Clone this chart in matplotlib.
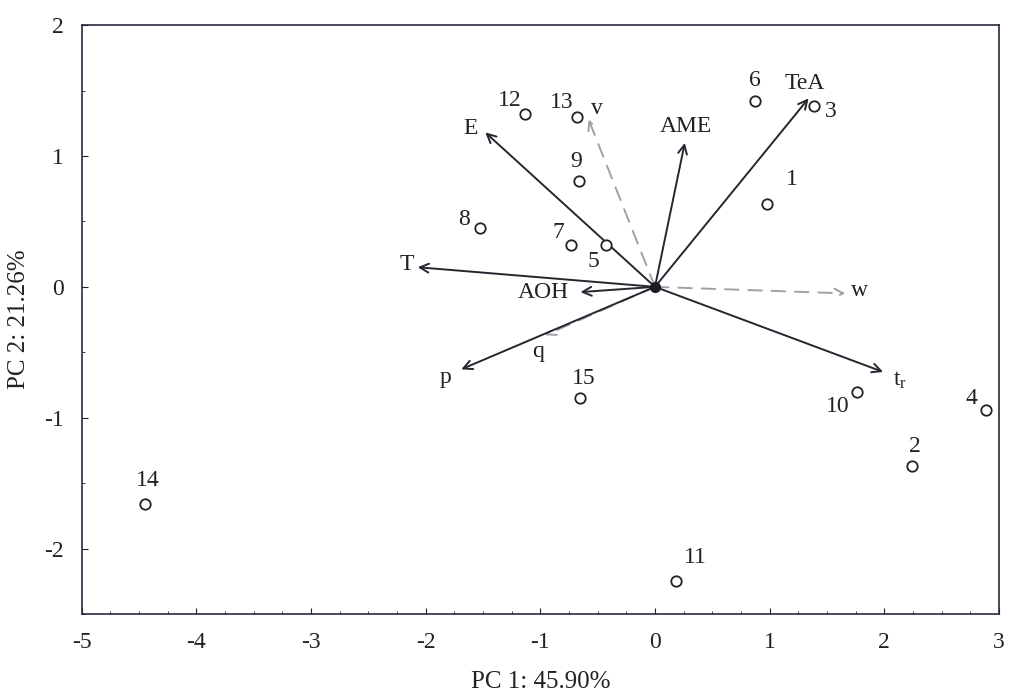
import numpy as np
import matplotlib
matplotlib.use("Agg")
import matplotlib.pyplot as plt
from matplotlib.ticker import MultipleLocator

plt.rcParams['font.family'] = ['Liberation Serif', 'DejaVu Serif']
plt.rcParams['axes.unicode_minus'] = False

# sample scores
sample_ids = ['1', '2', '3', '4', '5', '6', '7', '8', '9', '10', '11', '12', '13', '14', '15']
score_pc1 = [0.98, 2.24, 1.39, 2.89, -0.43, 0.87, -0.73, -1.53, -0.66, 1.76, 0.18, -1.13, -0.68, -4.45, -0.65]
score_pc2 = [0.63, -1.37, 1.38, -0.94, 0.32, 1.42, 0.32, 0.45, 0.81, -0.80, -2.25, 1.32, 1.30, -1.66, -0.85]

# variable loadings (scaled)
var_names = ['E', 'v', 'AME', 'TeA', 'T', 'AOH', 'w', 'q', 'p', r'$\mathregular{t_r}$']
load_pc1 = [-1.48, -0.58, 0.26, 1.34, -2.07, -0.65, 1.66, -0.96, -1.69, 1.99]
load_pc2 = [1.18, 1.28, 1.10, 1.44, 0.15, -0.04, -0.05, -0.37, -0.63, -0.65]
var_dashed = [False, True, False, False, False, False, True, True, False, False]

# label placement (offsets in points from the point / arrow tip)
sample_offsets = {
    '1': (18, 18), '2': (2, 14), '3': (12, -4), '4': (-11, 8), '5': (-9, -12),
    '6': (0, 15), '7': (-9, 9), '8': (-11, 6), '9': (-2, 14), '10': (-14, -11),
    '11': (14, 17), '12': (-11, 10), '13': (-11, 10), '14': (2, 17), '15': (2, 14),
}
var_offsets = {
    'E': (-11, 3), 'v': (6, 8), 'AME': (1, 12), 'TeA': (-3, 11), 'T': (-8, 2),
    'AOH': (-27, 0), 'w': (10, 2), 'q': (-5, -12), 'p': (-11, -6),
    r'$\mathregular{t_r}$': (12, -6),
}

fig = plt.figure(figsize=(10.10, 6.97), dpi=100)
ax = fig.add_axes([0.081, 0.119, 0.908, 0.845])

for name, x, y, dashed in zip(var_names, load_pc1, load_pc2, var_dashed):
    color = '#a0a0a8' if dashed else '#262630'
    ax.annotate('', xy=(x, y), xytext=(0, 0),
                arrowprops=dict(arrowstyle='->', color=color, lw=1.4,
                                linestyle=(0, (7, 5)) if dashed else '-',
                                shrinkA=0, shrinkB=0, mutation_scale=16))
    dx, dy = var_offsets[name]
    ax.annotate(name, xy=(x, y), xytext=(dx, dy), textcoords='offset points',
                ha='center', va='center', fontsize=17, color='#222222')

ax.plot([0], [0], 'o', color='#1a1a22', markersize=7, zorder=5)

ax.plot(score_pc1, score_pc2, 'o', mfc='white', mec='#222222', mew=1.3,
        markersize=7.5, linestyle='none', zorder=4)
for sid, x, y in zip(sample_ids, score_pc1, score_pc2):
    dx, dy = sample_offsets[sid]
    ax.annotate(sid, xy=(x, y), xytext=(dx, dy), textcoords='offset points',
                ha='center', va='center', fontsize=17, color='#222222')

ax.set_xlim(-5, 3)
ax.set_ylim(-2.5, 2)
ax.xaxis.set_major_locator(MultipleLocator(1))
ax.xaxis.set_minor_locator(MultipleLocator(0.25))
ax.yaxis.set_major_locator(MultipleLocator(1))
ax.yaxis.set_minor_locator(MultipleLocator(0.5))
ax.tick_params(which='both', direction='in', labelsize=17, colors='#222222')
ax.tick_params(which='major', length=4, pad=13)
ax.tick_params(which='minor', length=2)
for s in ax.spines.values():
    s.set_color('#2a2a40')
    s.set_linewidth(1.2)

ax.set_xlabel('PC 1: 45.90%', fontsize=18, color='#222222', labelpad=13)
ax.set_ylabel('PC 2: 21.26%', fontsize=18, color='#222222', labelpad=10)

fig.savefig('out.png', dpi=100)
